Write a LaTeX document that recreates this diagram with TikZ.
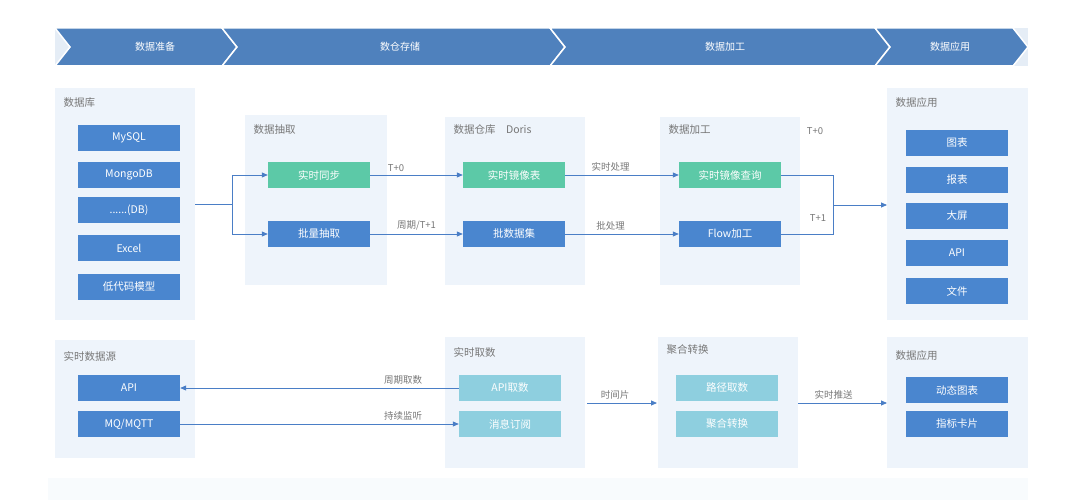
\documentclass[tikz,border=0pt]{standalone}
\usepackage{fontspec}
\setmainfont{Noto Sans CJK SC}
\usetikzlibrary{arrows.meta}
\definecolor{bandblue}{HTML}{4F81BD}
\definecolor{boxblue}{HTML}{4A86CF}
\definecolor{boxteal}{HTML}{5CC9A7}
\definecolor{boxcyan}{HTML}{8ECFDF}
\definecolor{panel}{HTML}{EEF4FB}
\definecolor{labgrey}{HTML}{777777}
\definecolor{linkblue}{HTML}{4A7EC6}
\begin{document}
\begin{tikzpicture}[x=1pt,y=-1pt,font=\fontsize{10}{12}\selectfont]
    \tikzstyle{box}=[draw=none,fill=boxblue,text=white,minimum width=102pt,minimum height=26pt,inner sep=0pt,font=\fontsize{10.5}{12}\selectfont]
    \tikzstyle{rt}=[box,fill=boxteal]
    \tikzstyle{pull}=[box,fill=boxcyan]
    \tikzstyle{panelbox}=[fill=panel,draw=none]
    \tikzstyle{title}=[anchor=west,text=labgrey,font=\fontsize{10.5}{12}\selectfont]
    \tikzstyle{lab}=[text=labgrey,font=\fontsize{9.5}{11}\selectfont]
    \tikzstyle{link}=[draw=linkblue,thick,-{Triangle[length=6pt,width=5pt]}]
    \tikzstyle{seg}=[fill=bandblue,draw=white,line width=1.5pt]

    \useasboundingbox (0,0) rectangle (1086,500);

    % banner
    \fill[panel!70!bandblue!40] (55,28) rectangle (1028,66);
    \draw[seg] (55,28) -- (222,28) -- (237,47) -- (222,66) -- (55,66) -- (70,47) -- cycle;
    \draw[seg] (222,28) -- (550,28) -- (565,47) -- (550,66) -- (222,66) -- (237,47) -- cycle;
    \draw[seg] (550,28) -- (875,28) -- (890,47) -- (875,66) -- (550,66) -- (565,47) -- cycle;
    \draw[seg] (875,28) -- (1013,28) -- (1028,47) -- (1013,66) -- (875,66) -- (890,47) -- cycle;
    \node[text=white] (b1) at (155,47) {数据准备};
    \node[text=white] (b2) at (400,47) {数仓存储};
    \node[text=white] (b3) at (725,47) {数据加工};
    \node[text=white] (b4) at (950,47) {数据应用};

    % panels
    \fill[panelbox] (55,88) rectangle (195,320);
    \fill[panelbox] (245,115) rectangle (387,285);
    \fill[panelbox] (445,117) rectangle (585,285);
    \fill[panelbox] (660,117) rectangle (800,285);
    \fill[panelbox] (887,88) rectangle (1028,320);
    \fill[panelbox] (55,340) rectangle (195,458);
    \fill[panelbox] (445,337) rectangle (585,468);
    \fill[panelbox] (658,337) rectangle (798,468);
    \fill[panelbox] (887,337) rectangle (1028,468);
    \fill[panel!40] (48,478) rectangle (1028,500);

    \node[title] (t1) at (60,103) {数据库};
    \node[title] (t2) at (250,130) {数据抽取};
    \node[title] (t3) at (450,130) {数据仓库\quad Doris};
    \node[title] (t4) at (665,130) {数据加工};
    \node[title] (t5) at (892,103) {数据应用};
    \node[title] (t6) at (60,356) {实时数据源};
    \node[title] (t7) at (450,352) {实时取数};
    \node[title] (t8) at (663,350) {聚合转换};
    \node[title] (t9) at (892,356) {数据应用};

    % source boxes
    \node[box] (mysql) at (129,138) {MySQL};
    \node[box] (mongo) at (129,175) {MongoDB};
    \node[box] (db) at (129,210) {......(DB)};
    \node[box] (excel) at (129,248) {Excel};
    \node[box] (lowcode) at (129,287) {低代码模型};

    \node[rt] (sync) at (319,175) {实时同步};
    \node[box] (batch) at (319,234) {批量抽取};
    \node[rt] (mirror) at (514,175) {实时镜像表};
    \node[box] (bset) at (514,234) {批数据集};
    \node[rt] (query) at (730,175) {实时镜像查询};
    \node[box] (flow) at (730,234) {Flow加工};

    \node[box] (chart) at (957,143) {图表};
    \node[box] (report) at (957,180) {报表};
    \node[box] (screen) at (957,216) {大屏};
    \node[box] (api) at (957,253) {API};
    \node[box] (file) at (957,291) {文件};

    \node[box] (srcapi) at (129,388) {API};
    \node[box] (mq) at (129,424) {MQ/MQTT};
    \node[pull] (apipull) at (510,388) {API取数};
    \node[pull] (sub) at (510,424) {消息订阅};
    \node[pull] (path) at (727,388) {路径取数};
    \node[pull] (agg) at (727,424) {聚合转换};
    \node[box] (dyn) at (957,390) {动态图表};
    \node[box] (card) at (957,424) {指标卡片};

    \coordinate (src) at (195,204);
    \coordinate (fork) at (232,204);
    \coordinate (join) at (833,205);
    \coordinate (app) at (887,205);
    \coordinate (rtl) at (587,403);
    \coordinate (rtr) at (657,403);
    \coordinate (pul) at (798,403);
    \coordinate (pur) at (887,403);

    % links
    \draw[thick,linkblue] (src) -- (fork);
    \draw[link] (fork) |- (sync);
    \draw[link] (fork) |- (batch);
    \draw[link] (sync) -- node[lab,above,pos=0.15,anchor=south west] {T+0} (mirror);
    \draw[link] (batch) -- node[lab,above,pos=0.5] {周期/T+1} (bset);
    \draw[link] (mirror) -- node[lab,above,pos=0.4] {实时处理} (query);
    \draw[link] (bset) -- node[lab,above,pos=0.4] {批处理} (flow);
    \draw[thick,linkblue] (query.east) -| (join) |- (flow.east);
    \draw[link] (join) -- (app);
    \node[lab] (tz) at (815,131) {T+0};
    \node[lab] (to) at (818,218) {T+1};

    \draw[link] (apipull) -- node[lab,above,pos=0.2] {周期取数} (srcapi);
    \draw[link] (mq) -- node[lab,above,pos=0.8] {持续监听} (sub);
    \draw[link] (rtl) -- node[lab,above,pos=0.4] {时间片} (rtr);
    \draw[link] (pul) -- node[lab,above,pos=0.4] {实时推送} (pur);
\end{tikzpicture}
\end{document}
